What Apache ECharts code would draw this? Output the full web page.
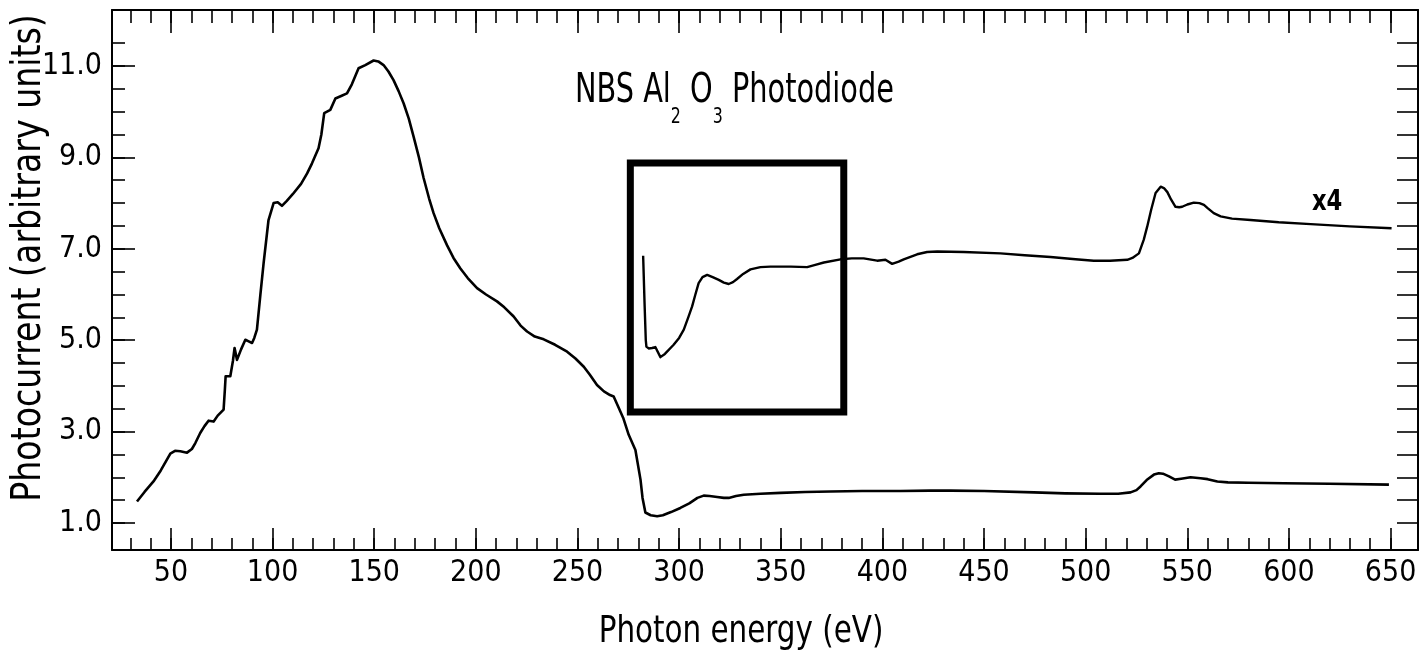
<!DOCTYPE html>
<html><head><meta charset="utf-8">
<script src="https://cdn.jsdelivr.net/npm/echarts@6/dist/echarts.min.js"></script>
<style>html,body{margin:0;padding:0;background:#fff}#c{width:1420px;height:659px}</style>
</head><body><div id="c"></div>
<script>
// ---- data ----
const energyMain = [33.3,37,41.4,45,49.7,52,54.6,57.9,60.3,62,64.4,66.5,68.5,71,73,75.9,76.5,76.9,79.2,80.5,81.3,82.5,84.5,86.6,88,89.9,91,92.3,94,95.6,98,100.5,102.5,104.6,107,110,114,117,119.4,122.6,124,125.4,128.4,130.9,134,136.6,139,142.3,145.6,149.7,152,154.6,157,159.5,162,164.5,167,169.4,172,174.3,177,179.2,182,185.8,189,192.4,196,200.6,205,210.4,214,218.6,222,225.2,229,233.4,239,244.9,249,253.1,256,259.6,263,266,267.8,270,272.5,275.2,278.5,281,282,283.4,286,289.2,292,296,300.6,305,309,312.1,315,318.7,322,324.4,328,331.8,340,349.9,362,374.5,390,408.9,423.7,433.5,450,474.5,490,507.3,516,522.1,525,527,530,533.6,536,538,541,544,547,551.6,556.5,560,564.8,570,580,597.5,620,649.2];
const currentMain = [1.47,1.68,1.91,2.15,2.52,2.58,2.57,2.54,2.62,2.75,2.97,3.12,3.24,3.22,3.35,3.48,3.9,4.21,4.21,4.55,4.83,4.57,4.8,5.01,4.98,4.94,5.05,5.23,6.0,6.69,7.63,8.0,8.02,7.94,8.05,8.2,8.42,8.65,8.87,9.2,9.5,9.97,10.04,10.29,10.35,10.4,10.6,10.95,11.02,11.12,11.1,11.02,10.88,10.69,10.45,10.18,9.85,9.45,9.0,8.55,8.1,7.78,7.45,7.08,6.8,6.57,6.36,6.14,6.0,5.85,5.72,5.52,5.32,5.19,5.08,5.02,4.9,4.75,4.6,4.42,4.25,4.02,3.88,3.8,3.77,3.55,3.3,2.93,2.6,1.95,1.55,1.23,1.17,1.15,1.17,1.24,1.33,1.43,1.55,1.6,1.59,1.57,1.55,1.55,1.59,1.62,1.64,1.66,1.68,1.69,1.7,1.7,1.71,1.71,1.7,1.67,1.65,1.64,1.64,1.67,1.72,1.8,1.94,2.06,2.09,2.08,2.02,1.95,1.97,2.0,1.98,1.96,1.91,1.89,1.88,1.87,1.86,1.84];
const energyX4 = [282.3,283.0,283.6,283.9,285,286.7,288.3,290.8,293,297.3,300,302.3,304.5,306.4,308,309.6,311.5,313.8,316.5,319.5,322,324.4,326.5,328.5,331.5,335.1,340,344.9,355,363,367,371.2,379.4,385,390.8,397.4,401.5,404.8,408,410.5,417.1,422,427,440,458.1,470,482.7,495,504,512,520.5,523,526.2,528.6,530.3,532.2,534.4,536.9,538.5,540.2,542,544.2,546,547.5,550,553.2,556,558.2,560,563,566.4,572,581.1,595,610.7,630,650.5];
const currentX4 = [6.85,5.8,5.0,4.86,4.82,4.83,4.85,4.63,4.7,4.9,5.05,5.23,5.5,5.74,6.0,6.25,6.38,6.43,6.38,6.32,6.26,6.23,6.27,6.34,6.45,6.55,6.6,6.61,6.61,6.6,6.65,6.7,6.77,6.79,6.79,6.74,6.76,6.67,6.72,6.77,6.88,6.93,6.94,6.93,6.9,6.86,6.82,6.77,6.74,6.74,6.76,6.8,6.9,7.2,7.49,7.85,8.22,8.36,8.33,8.24,8.08,7.92,7.91,7.92,7.97,8.01,8.0,7.96,7.89,7.78,7.71,7.66,7.63,7.58,7.54,7.49,7.45];
const boxEnergy = [276, 381, 381, 276, 276];
const boxCurrent = [8.88, 8.88, 3.43, 3.43, 8.88];
const xMajorTicks = [50,100,150,200,250,300,350,400,450,500,550,600,650];
const xMinorTicks = [30,40,50,60,70,80,90,100,110,120,130,140,150,160,170,180,190,200,210,220,230,240,250,260,270,280,290,300,310,320,330,340,350,360,370,380,390,400,410,420,430,440,450,460,470,480,490,500,510,520,530,540,550,560,570,580,590,600,610,620,630,640,650];
const yLabelTicks = [1,3,5,7,9,11];
const yMinorTicks = [1,1.5,2,2.5,3,3.5,4,4.5,5,5.5,6,6.5,7,7.5,8,8.5,9,9.5,10,10.5,11,11.5];
const titleMain = 'NBS Al', titleSub1 = '2', titleMid = ' O', titleSub2 = '3', titleEnd = ' Photodiode';
const xName = 'Photon energy (eV)';
const yName = 'Photocurrent (arbitrary units)';
const scaleNote = 'x4';

// ---- chart ----
const FONT = "'DejaVu Sans Condensed','Liberation Sans Narrow',sans-serif";
const X_MIN = 21, X_MAX = 663.5, Y_MIN = 0.41, Y_MAX = 12.225;
const zip = (a, b) => a.map((v, i) => [v, b[i]]);
const black = '#000';

function xAx(pos, ticks, len, showLine, labels) {
  return {
    type: 'value', position: pos, min: X_MIN, max: X_MAX,
    axisLine: { show: showLine, onZero: false, lineStyle: { color: black, width: 2 } },
    axisTick: { show: true, inside: true, length: len, customValues: ticks, lineStyle: { color: black, width: 1.6 } },
    axisLabel: labels ? { show: true, customValues: labels, color: black, fontFamily: FONT, fontSize: 30, margin: 8 } : { show: false },
    splitLine: { show: false }
  };
}
function yAx(pos, ticks, len, showLine, labels) {
  return {
    type: 'value', position: pos, min: Y_MIN, max: Y_MAX,
    axisLine: { show: showLine, onZero: false, lineStyle: { color: black, width: 2 } },
    axisTick: { show: true, inside: true, length: len, customValues: ticks, lineStyle: { color: black, width: 1.6 } },
    axisLabel: labels ? { show: true, customValues: labels, color: black, fontFamily: FONT, fontSize: 30, margin: 10, formatter: v => v.toFixed(1) } : { show: false },
    splitLine: { show: false }
  };
}

const chart = echarts.init(document.getElementById('c'), null, { renderer: 'canvas' });
chart.setOption({
  animation: false,
  backgroundColor: '#fff',
  grid: { left: 112, right: 2, top: 10, bottom: 109, containLabel: false },
  xAxis: [
    xAx('bottom', xMinorTicks, 12, true, xMajorTicks),
    xAx('bottom', xMajorTicks, 22, false, null),
    xAx('top', xMinorTicks, 13, true, null),
    xAx('top', xMajorTicks, 23, false, null)
  ],
  yAxis: [
    yAx('left', yMinorTicks, 13, true, yLabelTicks),
    yAx('left', yLabelTicks, 23, false, null),
    yAx('right', yMinorTicks, 21, true, null)
  ],
  series: [
    { type: 'line', xAxisIndex: 0, yAxisIndex: 0, data: zip(energyMain, currentMain), showSymbol: false, symbol: 'none',
      lineStyle: { color: black, width: 2.6, join: 'round' } },
    { type: 'line', xAxisIndex: 0, yAxisIndex: 0, data: zip(energyX4, currentX4), showSymbol: false, symbol: 'none',
      lineStyle: { color: black, width: 2.4, join: 'round' } },
    { type: 'line', xAxisIndex: 0, yAxisIndex: 0, data: zip(boxEnergy, boxCurrent), showSymbol: false, symbol: 'none',
      lineStyle: { color: black, width: 7, join: 'miter', cap: 'square' } }
  ],
  graphic: [
    { type: 'text', x: 575, y: 92, scaleX: 0.8, style: {
        text: '{a|' + titleMain + '}{s|' + titleSub1 + '}{a|' + titleMid + '}{s|' + titleSub2 + '}{a|' + titleEnd + '}',
        textAlign: 'left', textVerticalAlign: 'middle', fill: black,
        rich: {
          a: { fontFamily: FONT, fontSize: 40, fill: black },
          s: { fontFamily: FONT, fontSize: 22, fill: black, padding: [50, 0, 0, 0] }
        } } },
    { type: 'text', x: 1312, y: 203, scaleX: 0.9, style: { text: scaleNote, fontFamily: FONT, fontSize: 28, fontWeight: 'bold', fill: black, textAlign: 'left', textVerticalAlign: 'middle' } },
    { type: 'text', x: 741, y: 632, scaleX: 0.86, style: { text: xName, fontFamily: FONT, fontSize: 38, fill: black, textAlign: 'center', textVerticalAlign: 'middle' } },
    { type: 'text', x: 29, y: 258, rotation: Math.PI / 2, scaleX: 0.9, style: { text: yName, fontFamily: FONT, fontSize: 41, fill: black, textAlign: 'center', textVerticalAlign: 'middle' } }
  ]
});
</script>
</body></html>
